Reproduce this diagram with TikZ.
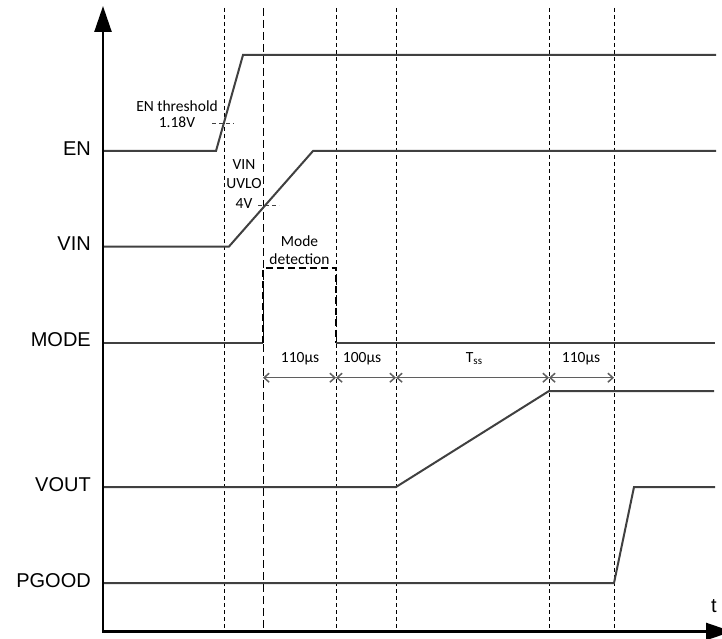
\documentclass[tikz,border=0pt]{standalone}
\usepackage{fontspec}
\setmainfont{Liberation Sans}
\newfontfamily\carl{Carlito}
\usetikzlibrary{arrows.meta}
\definecolor{sigc}{RGB}{64,64,64}
\definecolor{timc}{RGB}{95,95,95}
\begin{document}
\begin{tikzpicture}[x=1pt,y=-1pt,
  sig/.style={draw=sigc,line width=2pt,line join=miter},
  guide/.style={draw=black,line width=0.9pt,dash pattern=on 4pt off 3pt},
  guidelong/.style={draw=black,line width=1pt,dash pattern=on 8pt off 4pt},
  modebox/.style={draw=black,line width=1.4pt,dash pattern=on 7pt off 4pt},
  thr/.style={draw=sigc,line width=0.9pt,dash pattern=on 4pt off 3pt},
  tarrow/.style={draw=timc,line width=1.5pt,{Straight Barb[length=5pt,width=9pt]}-{Straight Barb[length=5pt,width=9pt]}},
  biglbl/.style={anchor=base east,inner sep=0pt,font=\fontsize{20}{24}\selectfont},
  smalllbl/.style={anchor=base,inner sep=0pt,font=\carl\fontsize{15.5}{18}\selectfont},
  axis/.style={draw=black,line width=2.5pt}
]
\useasboundingbox (0,0) rectangle (722,639);

% guide lines
\draw[guide] (224,8) -- (224,630);
\draw[guidelong] (263,8) -- (263,630);
\draw[guide] (336,8) -- (336,630);
\draw[guide] (396,8) -- (396,630);
\draw[guide] (549,8) -- (549,630);
\draw[guide] (614,8) -- (614,630);

% signals
\draw[sig] (103,151) -- (216,151) -- (243,55) -- (716,55);
\draw[sig] (103,246.5) -- (229,246.5) -- (313,151) -- (716,151);
\draw[sig] (103,342.5) -- (263,342.5);
\draw[modebox] (263,342.5) -- (263,268) -- (336,268) -- (336,342.5);
\draw[sig] (336,342.5) -- (715,342.5);
\draw[sig] (103,487) -- (396,487) -- (549,391) -- (714,391);
\draw[sig] (103,583) -- (614,583) -- (634,487) -- (715,487);

% thresholds
\draw[thr] (212,123) -- (234,123);
\draw[thr] (258,205.5) -- (279,205.5);

% axes
\draw[axis,{Triangle[length=26pt,width=17pt]}-{Triangle[length=26pt,width=17pt]}]
  (103,6) -- (103,631.5) -- (732,631.5);

% signal labels
\node[biglbl] (lEN) at (91,155.2) {EN};
\node[biglbl] (lVIN) at (91,250.6) {VIN};
\node[biglbl] (lMODE) at (91,346.6) {MODE};
\node[biglbl] (lVOUT) at (91,491.2) {VOUT};
\node[biglbl] (lPG) at (91,587.2) {PGOOD};
\node[anchor=base,inner sep=0pt,font=\fontsize{20}{24}\selectfont] (lt) at (714,612.3) {t};

% annotations
\node[smalllbl] (enth) at (177,111.5) {EN threshold};
\node[smalllbl] (enthv) at (177,128) {1.18V};
\node[smalllbl] (uv1) at (244,169.3) {VIN};
\node[smalllbl] (uv2) at (244,189) {UVLO};
\node[smalllbl] (uv3) at (244,208) {4V};
\node[smalllbl] (md1) at (299.5,246) {Mode};
\node[smalllbl] (md2) at (299.5,264) {detection};

% timing
\coordinate (t0) at (263,377.7);
\coordinate (t1) at (336,377.7);
\coordinate (t2) at (396,377.7);
\coordinate (t3) at (549,377.7);
\coordinate (t4) at (614,377.7);
\draw[tarrow] (t0) -- (t1);
\draw[tarrow] (t1) -- (t2);
\draw[tarrow] (t2) -- (t3);
\draw[tarrow] (t3) -- (t4);
\node[smalllbl] (d1) at (300,362.5) {110µs};
\node[smalllbl] (d2) at (362,362.5) {100µs};
\node[smalllbl] (d3) at (474,362.5) {T\raisebox{-2pt}{\fontsize{11}{11}\selectfont ss}};
\node[smalllbl] (d4) at (581,362.5) {110µs};
\end{tikzpicture}
\end{document}
